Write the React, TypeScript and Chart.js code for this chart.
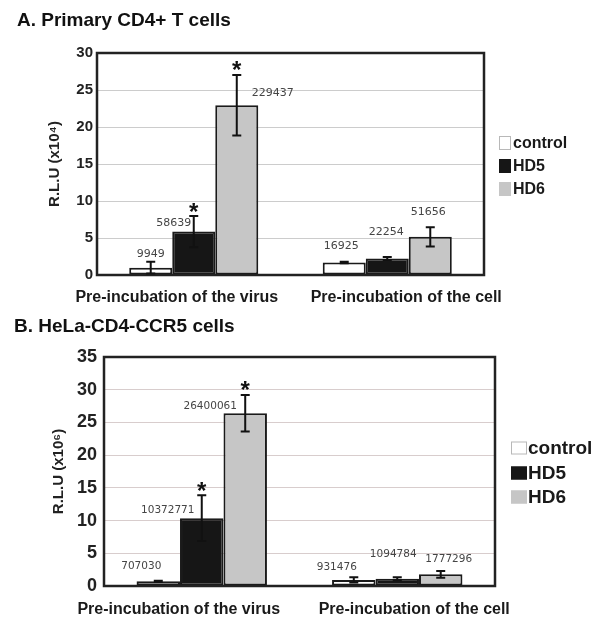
import React, { useEffect, useRef } from "react";
import { Chart, registerables } from "chart.js";

Chart.register(...registerables);

// ---------- shared ----------
const categories = ["Pre-incubation of the virus", "Pre-incubation of the cell"];
const seriesNames = ["control", "HD5", "HD6"];
const seriesColors = ["#ffffff", "#161616", "#c6c6c6"];
const legendBoxBorders = ["#b8b8b8", "#161616", "#c6c6c6"];

// ---------- panel A: Primary CD4+ T cells (R.L.U, shown x10^4) ----------
const rluA_control = [9949, 16925];
const rluA_hd5 = [58639, 22254];
const rluA_hd6 = [229437, 51656];
const errA_control = [0.8, 0.1];
const errA_hd5 = [2.1, 0.2];
const errA_hd6 = [4.1, 1.3];
const sigA_control = [false, false];
const sigA_hd5 = [true, false];
const sigA_hd6 = [true, false];
const yMaxA = 30;
const yStepA = 5;

// ---------- panel B: HeLa-CD4-CCR5 cells (R.L.U, shown x10^6) ----------
const rluB_control = [707030, 931476];
const rluB_hd5 = [10372771, 1094784];
const rluB_hd6 = [26400061, 1777296];
const errB_control = [0.1, 0.4];
const errB_hd5 = [3.5, 0.25];
const errB_hd6 = [2.8, 0.5];
const sigB_control = [false, false];
const sigB_hd5 = [true, false];
const sigB_hd6 = [true, false];
const yMaxB = 35;
const yStepB = 5;

// value-label nudges (px, relative to bar centre / error-bar top)
const nudgeA = [
  [[0, -8], [-3, -16]],
  [[-20, 7], [-1, -25]],
  [[36, 18], [-2, -15]],
];
const nudgeB = [
  [[-17, -14], [-17, -10]],
  [[-34, 15], [-4, -23]],
  [[-35, 11], [8, -12]],
];

const SANS = "'Liberation Sans', Arial, sans-serif";
const MONO = "'DejaVu Sans', sans-serif";

type PanelCfg = {
  top: number;
  height: number;
  title: string;
  titleX: number;
  titleBaseline: number;
  titleSize: number;
  yTitle: string;
  yMax: number;
  yStep: number;
  divisor: number;
  raw: number[][];
  errs: number[][];
  sig: boolean[][];
  nudges: number[][][];
  padLeft: number;
  padRight: number;
  padTop: number;
  yWidth: number;
  xHeight: number;
  tickSize: number;
  tickPad: number;
  gridColor: string;
  xLabelBaseline: number;
  xLabelOffsets: number[];
  xLabelSize: number;
  valueSize: number;
  legendX: number;
  legendYs: number[];
  legendBoxW: number;
  legendBoxH: number;
  legendSize: number;
  legendGap: number;
};

const panelA: PanelCfg = {
  top: 0,
  height: 305,
  title: "A. Primary CD4+ T cells",
  titleX: 17,
  titleBaseline: 26,
  titleSize: 19,
  yTitle: "R.L.U (x10\u2074)",
  yMax: yMaxA,
  yStep: yStepA,
  divisor: 1e4,
  raw: [rluA_control, rluA_hd5, rluA_hd6],
  errs: [errA_control, errA_hd5, errA_hd6],
  sig: [sigA_control, sigA_hd5, sigA_hd6],
  nudges: nudgeA,
  padLeft: 42,
  padRight: 116,
  padTop: 53,
  yWidth: 55,
  xHeight: 30,
  tickSize: 15,
  tickPad: 4,
  gridColor: "#cccccc",
  xLabelBaseline: 302,
  xLabelOffsets: [-17, 19],
  xLabelSize: 16,
  valueSize: 11,
  legendX: 499,
  legendYs: [143, 166, 189],
  legendBoxW: 12,
  legendBoxH: 14,
  legendSize: 16,
  legendGap: 2,
};

const panelB: PanelCfg = {
  top: 305,
  height: 325,
  title: "B. HeLa-CD4-CCR5 cells",
  titleX: 14,
  titleBaseline: 27,
  titleSize: 19,
  yTitle: "R.L.U (x10\u2076)",
  yMax: yMaxB,
  yStep: yStepB,
  divisor: 1e6,
  raw: [rluB_control, rluB_hd5, rluB_hd6],
  errs: [errB_control, errB_hd5, errB_hd6],
  sig: [sigB_control, sigB_hd5, sigB_hd6],
  nudges: nudgeB,
  padLeft: 46,
  padRight: 105,
  padTop: 52,
  yWidth: 58,
  xHeight: 44,
  tickSize: 18,
  tickPad: 7,
  gridColor: "#d8cdcd",
  xLabelBaseline: 309,
  xLabelOffsets: [-23, 17],
  xLabelSize: 16,
  valueSize: 10.5,
  legendX: 511,
  legendYs: [143, 168, 192],
  legendBoxW: 16,
  legendBoxH: 13,
  legendSize: 19,
  legendGap: 1,
};

function makeDecor(cfg: PanelCfg) {
  return {
    id: "decor",
    afterDatasetsDraw(chart: any) {
      const ctx = chart.ctx as CanvasRenderingContext2D;
      const yScale = chart.scales.y;
      const xScale = chart.scales.x;
      const area = chart.chartArea;
      ctx.save();

      // plot frame
      ctx.strokeStyle = "#222";
      ctx.lineWidth = 2.5;
      ctx.strokeRect(area.left, area.top, area.right - area.left, area.bottom - area.top);

      chart.data.datasets.forEach((ds: any, di: number) => {
        const meta = chart.getDatasetMeta(di);
        meta.data.forEach((bar: any, i: number) => {
          const v = ds.data[i];
          const e = cfg.errs[di][i];
          const x = bar.x;
          const yHi = yScale.getPixelForValue(v + e);
          const yLo = yScale.getPixelForValue(Math.max(0, v - e));
          // error bar
          ctx.strokeStyle = "#111";
          ctx.lineWidth = 2;
          ctx.beginPath();
          ctx.moveTo(x, yLo);
          ctx.lineTo(x, yHi);
          ctx.moveTo(x - 4.5, yHi);
          ctx.lineTo(x + 4.5, yHi);
          ctx.moveTo(x - 4.5, yLo);
          ctx.lineTo(x + 4.5, yLo);
          ctx.stroke();
          // significance star
          if (cfg.sig[di][i]) {
            ctx.fillStyle = "#111";
            ctx.font = `bold 24px ${SANS}`;
            ctx.textAlign = "center";
            ctx.textBaseline = "alphabetic";
            ctx.fillText("*", x, yHi - 9 + 0.52 * 24);
          }
          // value label
          const [dx, dy] = cfg.nudges[di][i];
          ctx.fillStyle = "#454545";
          ctx.font = `${cfg.valueSize}px ${MONO}`;
          ctx.textAlign = "center";
          ctx.textBaseline = "middle";
          ctx.fillText(String(cfg.raw[di][i]), x + dx, yHi + dy);
        });
      });

      // category labels
      ctx.fillStyle = "#1a1a1a";
      ctx.font = `bold ${cfg.xLabelSize}px ${SANS}`;
      ctx.textAlign = "center";
      ctx.textBaseline = "alphabetic";
      chart.data.labels.forEach((lab: string, i: number) => {
        ctx.fillText(lab, xScale.getPixelForValue(i) + cfg.xLabelOffsets[i], cfg.xLabelBaseline);
      });

      // legend
      chart.data.datasets.forEach((ds: any, di: number) => {
        const cy = cfg.legendYs[di];
        const bx = cfg.legendX;
        const by = cy - cfg.legendBoxH / 2;
        ctx.fillStyle = ds.backgroundColor;
        ctx.fillRect(bx, by, cfg.legendBoxW, cfg.legendBoxH);
        ctx.strokeStyle = legendBoxBorders[di];
        ctx.lineWidth = 1;
        ctx.strokeRect(bx + 0.5, by + 0.5, cfg.legendBoxW - 1, cfg.legendBoxH - 1);
        ctx.fillStyle = "#1a1a1a";
        ctx.font = `bold ${cfg.legendSize}px ${SANS}`;
        ctx.textAlign = "left";
        ctx.textBaseline = "middle";
        ctx.fillText(ds.label, bx + cfg.legendBoxW + cfg.legendGap, cy + 1);
      });

      // panel title
      ctx.fillStyle = "#111";
      ctx.font = `bold ${cfg.titleSize}px ${SANS}`;
      ctx.textAlign = "left";
      ctx.textBaseline = "alphabetic";
      ctx.fillText(cfg.title, cfg.titleX, cfg.titleBaseline);

      ctx.restore();
    },
  };
}

function Panel({ cfg }: { cfg: PanelCfg }) {
  const ref = useRef<HTMLCanvasElement | null>(null);
  useEffect(() => {
    if (!ref.current) return;
    const chart = new Chart(ref.current, {
      type: "bar",
      data: {
        labels: categories,
        datasets: seriesNames.map((name, di) => ({
          label: name,
          data: cfg.raw[di].map((r) => r / cfg.divisor),
          backgroundColor: seriesColors[di],
          borderColor: "#1a1a1a",
          borderWidth: 2,
          borderSkipped: false,
          categoryPercentage: 0.667,
          barPercentage: 1,
        })),
      },
      options: {
        responsive: false,
        animation: false,
        layout: { padding: { left: cfg.padLeft, right: cfg.padRight, top: cfg.padTop, bottom: 0 } },
        plugins: {
          legend: { display: false },
          tooltip: { enabled: false },
          title: { display: false },
        },
        scales: {
          x: {
            grid: { display: false },
            border: { display: false },
            ticks: { display: false },
            afterFit: (s: any) => {
              s.height = cfg.xHeight;
            },
          },
          y: {
            min: 0,
            max: cfg.yMax,
            ticks: {
              stepSize: cfg.yStep,
              padding: cfg.tickPad,
              color: "#222",
              font: { family: SANS, size: cfg.tickSize, weight: "bold" },
            },
            grid: { color: cfg.gridColor, lineWidth: 1, drawTicks: false },
            border: { display: false },
            title: {
              display: true,
              text: cfg.yTitle,
              color: "#222",
              font: { family: SANS, size: 15, weight: "bold" },
              padding: { top: 4, bottom: 4 },
            },
            afterFit: (s: any) => {
              s.width = cfg.yWidth;
            },
          },
        },
      },
      plugins: [makeDecor(cfg)],
    } as any);
    return () => chart.destroy();
  }, [cfg]);
  return (
    <canvas
      ref={ref}
      width={600}
      height={cfg.height}
      style={{ position: "absolute", left: 0, top: cfg.top, width: 600, height: cfg.height, display: "block" }}
    />
  );
}

export default function App() {
  return (
    <div style={{ position: "absolute", left: 0, top: 0, width: 600, height: 630, background: "#fff" }}>
      <Panel cfg={panelA} />
      <Panel cfg={panelB} />
    </div>
  );
}
